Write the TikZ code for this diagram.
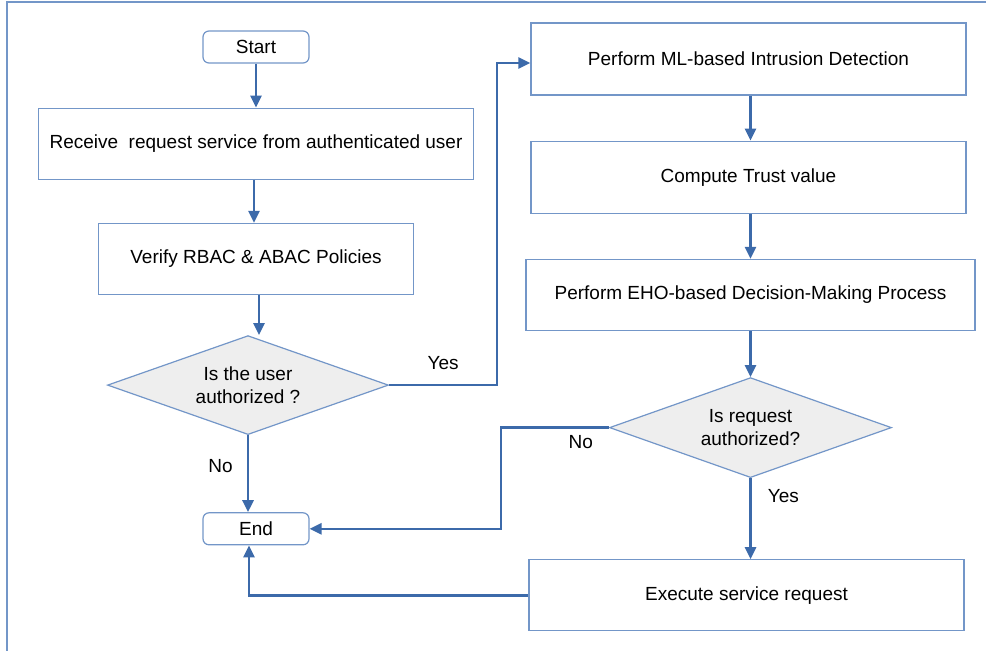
\documentclass[tikz,border=0pt]{standalone}
\usepackage{fontspec}
\setmainfont{Liberation Sans}
\usepackage{xcolor}
\usetikzlibrary{shapes.geometric, arrows.meta, positioning}

\definecolor{lineblue}{HTML}{3C6AAA}
\definecolor{boxblue}{HTML}{7396C8}
\definecolor{decgray}{HTML}{EEEEEE}

\begin{document}
\begin{tikzpicture}[
    x=1pt, y=1pt,
    font=\fontsize{19}{22.5}\selectfont,
    terminal/.style = {rectangle, rounded corners=6pt, draw=boxblue, line width=1.2pt,
                       minimum width=106pt, minimum height=32pt, align=center},
    box/.style = {rectangle, draw=boxblue, line width=1.2pt,
                  minimum width=435pt, minimum height=71pt, align=center},
    decision/.style = {diamond, aspect=2.84, draw=boxblue, line width=1.2pt, fill=decgray,
                       minimum width=281pt, minimum height=99pt, inner sep=0pt, align=center},
    arrow/.style = {-{Triangle[length=12pt,width=11pt]}, line width=2.6pt, draw=lineblue},
    label/.style = {inner sep=2pt}
]
\useasboundingbox (0,0) rectangle (986,-651);

% frame
\draw[boxblue, line width=1.4pt] (7,-651) -- (7,-2) -- (986,-2);

% Left column
\node[terminal] (start) at (256,-47) {Start};
\node[box, below=44pt of start] (receive) {Receive\ \ request service from authenticated user};
\node[box, minimum width=315pt, below=43pt of receive] (verify) {Verify RBAC \& ABAC Policies};
\node[decision, below=40pt of verify, xshift=-8pt] (userauth) {Is the user\\authorized ?};
\node[terminal, below=77pt of userauth, xshift=8pt] (end) {End};

% Right column
\node[box, minimum height=72pt] (intrusion) at (748.5,-59) {Perform ML-based Intrusion Detection};
\node[box, minimum height=72pt, below=45pt of intrusion] (trust) {Compute Trust value};
\node[box, minimum width=449pt, below=45pt of trust, xshift=2pt] (eho) {Perform EHO-based Decision-Making Process};
\node[decision, minimum width=282pt, minimum height=100pt, below=46pt of eho] (reqauth) {Is request\\authorized?};
\node[box, below=81pt of reqauth, xshift=-4pt] (execute) {Execute service request};

% Arrows
\draw[arrow] (start) -- (receive);
\draw[arrow] ([xshift=-2pt]receive.south) -- ([xshift=-2pt]verify.north);
\draw[arrow] ([xshift=3pt]verify.south) -- ([xshift=3pt]verify.south |- userauth.north);
\draw[arrow] (userauth.east) -- node[label, above=12pt] {Yes} ++(108,0) |- ([yshift=-4pt]intrusion.west);
\draw[arrow] (userauth.south) -- node[label, left=12pt, pos=0.4] {No} (userauth.south |- end.north);
\draw[arrow] ([xshift=2pt]intrusion.south) -- ([xshift=2pt]trust.north);
\draw[arrow] ([xshift=2pt]trust.south) -- ([xshift=2pt]trust.south |- eho.north);
\draw[arrow] (eho) -- (reqauth);
\draw[arrow] (reqauth.west) -- node[label, below=5pt, pos=0.26] {No} ++(-108,0) |- (end.east);
\draw[arrow] (reqauth.south) -- node[label, right=14pt, pos=0.22] {Yes} (reqauth.south |- execute.north);
\draw[arrow] (execute.west) -| ([xshift=-7pt]end.south);

\end{tikzpicture}
\end{document}
